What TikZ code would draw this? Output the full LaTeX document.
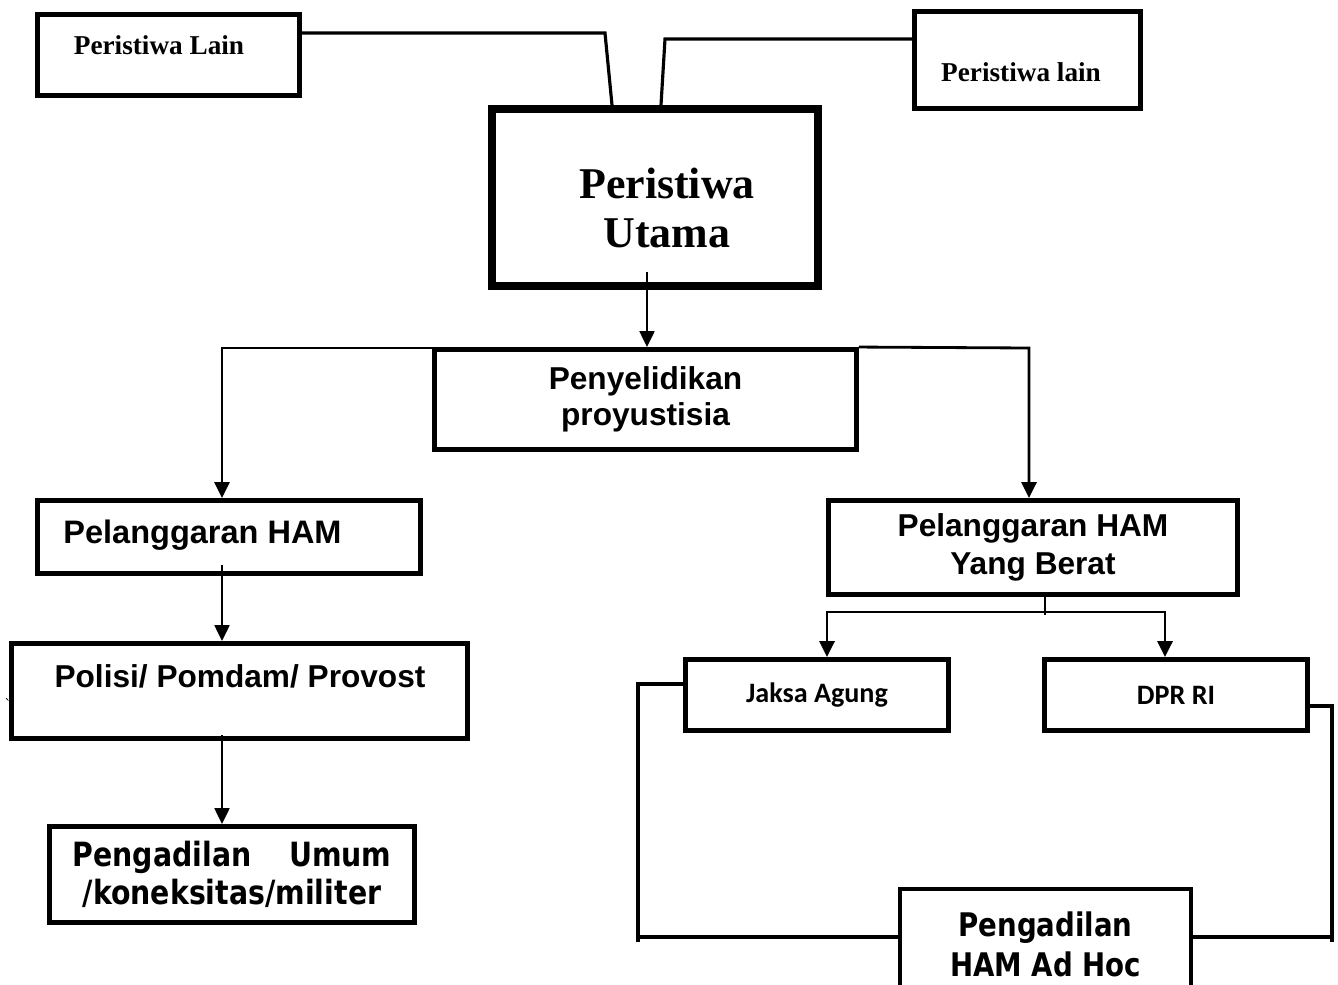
\documentclass[tikz,border=0pt]{standalone}
\usepackage{fontspec}
\usepackage{tikz}
\usetikzlibrary{calc,positioning,arrows.meta}
\newfontfamily\headfont{Liberation Serif}
\newfontfamily\arialfont{Liberation Sans}
\newfontfamily\tahomafont[FakeStretch=0.85]{DejaVu Sans}
\newfontfamily\calibrifont{Carlito}
\tikzset{
  box/.style={draw=black,line width=2.8pt,inner sep=0pt,align=center},
  link/.style={draw=black,line width=1.8pt},
  flow/.style={draw=black,line width=1.1pt,-{Triangle[length=9pt,width=8.5pt]}},
  linkflow/.style={draw=black,line width=1.6pt,-{Triangle[length=9pt,width=8.5pt]}},
}

\begin{document}
\begin{tikzpicture}
  \useasboundingbox (0,0) rectangle (26.76,-19.68);
  \clip (0,0) rectangle (26.76,-19.68);

  \node[box,minimum width=5.24cm,minimum height=1.62cm] (pl1) at (3.37,-1.10) {};
  \node[font=\headfont\bfseries\fontsize{15.5}{18}\selectfont] (pl1txt) at (3.18,-0.90) {Peristiwa Lain};
  \node[box,minimum width=4.52cm,minimum height=1.94cm] (pl2) at (20.55,-1.20) {};
  \node[font=\headfont\bfseries\fontsize{15.5}{18}\selectfont] (pl2txt) at (20.42,-1.44) {Peristiwa lain};

  \node[box,line width=4.5pt,minimum width=6.52cm,minimum height=3.54cm] (pu) at (13.10,-3.95) {};
  \node[align=center,font=\headfont\bfseries\fontsize{25}{28.4}\selectfont] (putxt) at (13.34,-4.16) {Peristiwa\\Utama};

  \node[box,minimum width=8.44cm,minimum height=2.00cm,font=\arialfont\bfseries\fontsize{18}{20.4}\selectfont] (pen) at (12.91,-7.99) {Penyelidikan\\proyustisia};

  \node[box,minimum width=7.66cm,minimum height=1.46cm] (phl) at (4.58,-10.74) {};
  \node[font=\arialfont\bfseries\fontsize{18.5}{21}\selectfont] (phltxt) at (4.05,-10.70) {Pelanggaran HAM};
  \node[box,minimum width=9.12cm,minimum height=1.90cm] (pol) at (4.79,-13.82) {};
  \node[font=\arialfont\bfseries\fontsize{18}{21}\selectfont] (poltxt) at (4.80,-13.52) {Polisi/ Pomdam/ Provost};
  \node[box,minimum width=7.30cm,minimum height=1.92cm,text width=6.38cm,font=\tahomafont\bfseries\fontsize{19}{21.5}\selectfont] (pum) at (4.64,-17.49) {Pengadilan\hfill Umum\\/koneksitas/militer};
  \node[font=\small] (tick) at (0.16,-14.08) {\textasciigrave};

  \node[box,minimum width=8.18cm,minimum height=1.88cm,font=\arialfont\bfseries\fontsize{18}{21.5}\selectfont] (phb) at (20.66,-10.95) {Pelanggaran HAM\\Yang Berat};
  \node[box,minimum width=5.26cm,minimum height=1.42cm,font=\calibrifont\bfseries\fontsize{16}{19}\selectfont] (ja) at (16.34,-13.90) {Jaksa Agung};
  \node[box,minimum width=5.26cm,minimum height=1.42cm,font=\calibrifont\bfseries\fontsize{16}{19}\selectfont] (dpr) at (23.52,-13.90) {DPR RI};
  \node[box,line width=2.4pt,minimum width=5.82cm,minimum height=2.22cm,font=\tahomafont\bfseries\fontsize{18.5}{22.7}\selectfont] (pha) at (20.91,-18.89) {Pengadilan\\HAM Ad Hoc};

  \draw[link] (pl1.east |- 0,-0.66) -- (12.10,-0.66) -- (pu.north -| 12.24,0);
  \draw[link] (pl2.west |- 0,-0.78) -- (13.30,-0.78) -- (pu.north -| 13.22,0);
  \draw[flow] (12.94,-5.44) -- (pen.north -| 12.94,0);

  \draw[linkflow] (pen.west |- 0,-6.96) -- (4.44,-6.96) -- (phl.north -| 4.44,0);
  \draw[linkflow] (pen.north east) -- (20.58,-6.96) -- (phb.north -| 20.58,0);
  \draw[flow] (4.44,-11.30) -- (pol.north -| 4.44,0);
  \draw[flow] (4.44,-14.70) -- (pum.north -| 4.44,0);

  \draw[flow,-] (phb.south -| 20.90,0) -- (20.90,-12.30);
  \draw[linkflow] (20.90,-12.24) -- (16.54,-12.24) -- (ja.north -| 16.54,0);
  \draw[linkflow] (20.90,-12.24) -- (23.30,-12.24) -- (dpr.north -| 23.30,0);

  \draw[link] (ja.west |- 0,-13.68) -- (12.76,-13.68) -- (12.76,-18.84);
  \draw[link] (12.76,-18.74) -- (pha.west |- 0,-18.74);
  \draw[link] (dpr.east |- 0,-14.12) -- (26.64,-14.12) -- (26.64,-18.84);
  \draw[link] (pha.east |- 0,-18.74) -- (26.64,-18.74);
\end{tikzpicture}
\end{document}
